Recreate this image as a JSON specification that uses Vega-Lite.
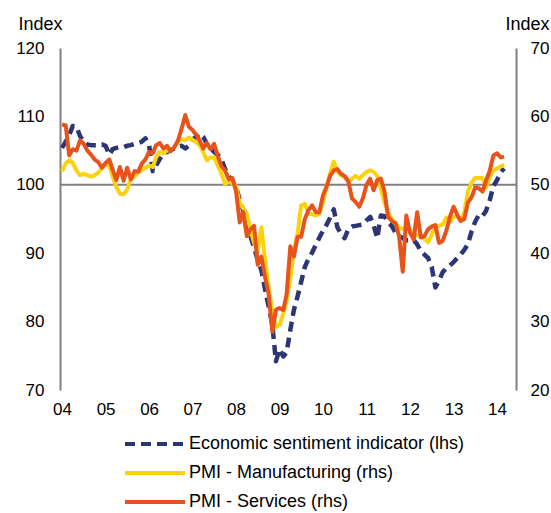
{
  "$schema": "https://vega.github.io/schema/vega-lite/v6.json",
  "width": 456,
  "height": 342,
  "autosize": {"type": "none"},
  "padding": {"left": 60, "top": 48, "right": 35, "bottom": 123},
  "background": "white",
  "config": {
    "view": {"stroke": null},
    "font": "Liberation Sans",
    "axis": {
      "labelFont": "Liberation Sans", "labelFontSize": 17, "labelColor": "#000000",
      "titleFont": "Liberation Sans", "titleFontSize": 18, "titleFontWeight": "normal", "titleColor": "#000000",
      "grid": false, "ticks": false, "domainColor": "#808080", "domainWidth": 2,
      "labelFlush": false, "labelOverlap": false
    },
    "axisX": {"domain": false, "format": "%y", "formatType": "utc", "labelPadding": 11, "tickCount": {"interval": "year", "step": 1}, "title": null},
    "legend": {
      "labelFont": "Liberation Sans", "labelFontSize": 18, "labelColor": "#000000", "labelLimit": 0,
      "symbolType": "M-6,0H6", "symbolSize": 100, "symbolStrokeWidth": 4,
      "labelOffset": 25, "rowPadding": 11, "padding": 0
    }
  },
  "data": {
    "values": [
      {"d": "2004-01", "esi": 105.4, "man": 52.0, "ser": 58.8},
      {"d": "2004-02", "esi": 106.3, "man": 53.1, "ser": 58.7},
      {"d": "2004-03", "esi": 107.3, "man": 53.6, "ser": 54.3},
      {"d": "2004-04", "esi": 108.6, "man": 53.2, "ser": 55.2},
      {"d": "2004-05", "esi": 108.5, "man": 52.1, "ser": 55.0},
      {"d": "2004-06", "esi": 107.1, "man": 51.4, "ser": 56.5},
      {"d": "2004-07", "esi": 106.3, "man": 51.6, "ser": 56.0},
      {"d": "2004-08", "esi": 105.9, "man": 51.4, "ser": 55.0},
      {"d": "2004-09", "esi": 105.8, "man": 51.2, "ser": 54.4},
      {"d": "2004-10", "esi": 105.8, "man": 51.4, "ser": 53.7},
      {"d": "2004-11", "esi": 105.8, "man": 51.8, "ser": 53.3},
      {"d": "2004-12", "esi": 105.9, "man": 52.4, "ser": 52.5},
      {"d": "2005-01", "esi": 105.7, "man": 53.0, "ser": 53.2},
      {"d": "2005-02", "esi": 104.4, "man": 52.8, "ser": 53.7},
      {"d": "2005-03", "esi": 105.2, "man": 51.2, "ser": 52.2},
      {"d": "2005-04", "esi": 105.4, "man": 49.7, "ser": 50.7},
      {"d": "2005-05", "esi": 105.5, "man": 48.7, "ser": 52.6},
      {"d": "2005-06", "esi": 105.5, "man": 48.6, "ser": 50.6},
      {"d": "2005-07", "esi": 105.7, "man": 49.3, "ser": 52.5},
      {"d": "2005-08", "esi": 105.8, "man": 50.9, "ser": 50.8},
      {"d": "2005-09", "esi": 106.0, "man": 51.2, "ser": 52.0},
      {"d": "2005-10", "esi": 106.1, "man": 51.8, "ser": 51.9},
      {"d": "2005-11", "esi": 106.3, "man": 52.2, "ser": 53.1},
      {"d": "2005-12", "esi": 106.8, "man": 52.5, "ser": 53.7},
      {"d": "2006-01", "esi": 105.8, "man": 52.8, "ser": 54.8},
      {"d": "2006-02", "esi": 102.0, "man": 52.6, "ser": 54.6},
      {"d": "2006-03", "esi": 102.8, "man": 54.0, "ser": 55.8},
      {"d": "2006-04", "esi": 103.8, "man": 54.8, "ser": 56.1},
      {"d": "2006-05", "esi": 104.5, "man": 54.6, "ser": 55.3},
      {"d": "2006-06", "esi": 104.8, "man": 55.0, "ser": 55.7},
      {"d": "2006-07", "esi": 105.1, "man": 55.1, "ser": 54.9},
      {"d": "2006-08", "esi": 105.3, "man": 55.5, "ser": 55.5},
      {"d": "2006-09", "esi": 105.6, "man": 56.3, "ser": 56.5},
      {"d": "2006-10", "esi": 105.7, "man": 56.7, "ser": 58.2},
      {"d": "2006-11", "esi": 105.3, "man": 56.5, "ser": 60.2},
      {"d": "2006-12", "esi": 105.7, "man": 56.9, "ser": 58.5},
      {"d": "2007-01", "esi": 106.6, "man": 56.6, "ser": 58.0},
      {"d": "2007-02", "esi": 107.0, "man": 56.2, "ser": 57.3},
      {"d": "2007-03", "esi": 107.5, "man": 55.8, "ser": 56.5},
      {"d": "2007-04", "esi": 107.0, "man": 54.8, "ser": 55.3},
      {"d": "2007-05", "esi": 106.0, "man": 53.6, "ser": 56.1},
      {"d": "2007-06", "esi": 105.4, "man": 54.0, "ser": 55.2},
      {"d": "2007-07", "esi": 104.8, "man": 54.0, "ser": 56.0},
      {"d": "2007-08", "esi": 104.4, "man": 52.8, "ser": 54.2},
      {"d": "2007-09", "esi": 103.7, "man": 51.6, "ser": 52.7},
      {"d": "2007-10", "esi": 102.3, "man": 50.1, "ser": 52.1},
      {"d": "2007-11", "esi": 101.3, "man": 50.5, "ser": 50.8},
      {"d": "2007-12", "esi": 100.5, "man": 50.2, "ser": 51.0},
      {"d": "2008-01", "esi": 99.7, "man": 49.8, "ser": 49.1},
      {"d": "2008-02", "esi": 97.8, "man": 47.3, "ser": 44.5},
      {"d": "2008-03", "esi": 96.3, "man": 46.6, "ser": 46.0},
      {"d": "2008-04", "esi": 94.8, "man": 45.8, "ser": 42.5},
      {"d": "2008-05", "esi": 92.5, "man": 43.4, "ser": 43.5},
      {"d": "2008-06", "esi": 90.8, "man": 41.5, "ser": 44.0},
      {"d": "2008-07", "esi": 89.0, "man": 40.2, "ser": 38.3},
      {"d": "2008-08", "esi": 87.5, "man": 43.8, "ser": 39.5},
      {"d": "2008-09", "esi": 84.7, "man": 39.0, "ser": 36.5},
      {"d": "2008-10", "esi": 82.2, "man": 35.0, "ser": 34.0},
      {"d": "2008-11", "esi": 79.5, "man": 31.5, "ser": 28.5},
      {"d": "2008-12", "esi": 74.2, "man": 29.2, "ser": 31.7},
      {"d": "2009-01", "esi": 76.0, "man": 29.5, "ser": 32.0},
      {"d": "2009-02", "esi": 74.9, "man": 31.2, "ser": 31.7},
      {"d": "2009-03", "esi": 75.5, "man": 33.0, "ser": 34.0},
      {"d": "2009-04", "esi": 78.8, "man": 36.3, "ser": 41.0},
      {"d": "2009-05", "esi": 81.7, "man": 40.5, "ser": 39.5},
      {"d": "2009-06", "esi": 83.7, "man": 42.9, "ser": 42.4},
      {"d": "2009-07", "esi": 85.8, "man": 47.0, "ser": 42.4},
      {"d": "2009-08", "esi": 88.0, "man": 47.2, "ser": 45.0},
      {"d": "2009-09", "esi": 89.2, "man": 45.8, "ser": 46.3},
      {"d": "2009-10", "esi": 90.1, "man": 45.7, "ser": 47.0},
      {"d": "2009-11", "esi": 91.2, "man": 45.5, "ser": 46.0},
      {"d": "2009-12", "esi": 92.3, "man": 45.8, "ser": 46.0},
      {"d": "2010-01", "esi": 93.3, "man": 47.5, "ser": 48.5},
      {"d": "2010-02", "esi": 94.2, "man": 49.8, "ser": 49.8},
      {"d": "2010-03", "esi": 95.2, "man": 51.7, "ser": 51.3},
      {"d": "2010-04", "esi": 96.4, "man": 53.4, "ser": 52.1},
      {"d": "2010-05", "esi": 93.8, "man": 51.9, "ser": 52.3},
      {"d": "2010-06", "esi": 92.8, "man": 51.4, "ser": 51.6},
      {"d": "2010-07", "esi": 92.2, "man": 51.1, "ser": 51.3},
      {"d": "2010-08", "esi": 93.5, "man": 50.5, "ser": 50.5},
      {"d": "2010-09", "esi": 93.9, "man": 50.9, "ser": 48.0},
      {"d": "2010-10", "esi": 94.0, "man": 51.3, "ser": 47.5},
      {"d": "2010-11", "esi": 94.1, "man": 50.9, "ser": 46.8},
      {"d": "2010-12", "esi": 94.2, "man": 51.4, "ser": 48.0},
      {"d": "2011-01", "esi": 94.8, "man": 51.9, "ser": 50.0},
      {"d": "2011-02", "esi": 95.3, "man": 52.1, "ser": 50.9},
      {"d": "2011-03", "esi": 94.1, "man": 51.9, "ser": 49.2},
      {"d": "2011-04", "esi": 92.2, "man": 51.3, "ser": 50.7},
      {"d": "2011-05", "esi": 95.5, "man": 49.5, "ser": 50.9},
      {"d": "2011-06", "esi": 95.4, "man": 47.4, "ser": 49.0},
      {"d": "2011-07", "esi": 94.5, "man": 46.0, "ser": 45.3},
      {"d": "2011-08", "esi": 94.0, "man": 45.0, "ser": 44.7},
      {"d": "2011-09", "esi": 93.0, "man": 44.4, "ser": 44.4},
      {"d": "2011-10", "esi": 92.5, "man": 43.7, "ser": 42.5},
      {"d": "2011-11", "esi": 92.2, "man": 43.6, "ser": 37.3},
      {"d": "2011-12", "esi": 91.9, "man": 43.6, "ser": 45.5},
      {"d": "2012-01", "esi": 91.9, "man": 43.4, "ser": 43.0},
      {"d": "2012-02", "esi": 91.9, "man": 42.9, "ser": 42.0},
      {"d": "2012-03", "esi": 91.3, "man": 42.6, "ser": 46.0},
      {"d": "2012-04", "esi": 90.3, "man": 42.6, "ser": 42.3},
      {"d": "2012-05", "esi": 89.8, "man": 42.1, "ser": 42.5},
      {"d": "2012-06", "esi": 89.3, "man": 41.6, "ser": 43.5},
      {"d": "2012-07", "esi": 88.0, "man": 42.7, "ser": 43.9},
      {"d": "2012-08", "esi": 85.0, "man": 43.8, "ser": 44.1},
      {"d": "2012-09", "esi": 86.0, "man": 44.0, "ser": 41.5},
      {"d": "2012-10", "esi": 87.2, "man": 44.2, "ser": 41.8},
      {"d": "2012-11", "esi": 87.8, "man": 45.2, "ser": 43.3},
      {"d": "2012-12", "esi": 88.2, "man": 44.6, "ser": 45.3},
      {"d": "2013-01", "esi": 88.7, "man": 45.3, "ser": 46.8},
      {"d": "2013-02", "esi": 89.3, "man": 45.4, "ser": 45.6},
      {"d": "2013-03", "esi": 89.8, "man": 44.8, "ser": 44.7},
      {"d": "2013-04", "esi": 90.5, "man": 46.0, "ser": 45.0},
      {"d": "2013-05", "esi": 91.3, "man": 49.0, "ser": 47.4},
      {"d": "2013-06", "esi": 93.2, "man": 50.3, "ser": 48.2},
      {"d": "2013-07", "esi": 94.6, "man": 51.0, "ser": 49.6},
      {"d": "2013-08", "esi": 95.6, "man": 51.0, "ser": 49.5},
      {"d": "2013-09", "esi": 95.4, "man": 51.0, "ser": 49.0},
      {"d": "2013-10", "esi": 96.2, "man": 49.6, "ser": 50.6},
      {"d": "2013-11", "esi": 97.8, "man": 51.2, "ser": 52.1},
      {"d": "2013-12", "esi": 99.8, "man": 52.1, "ser": 54.3},
      {"d": "2014-01", "esi": 100.7, "man": 52.4, "ser": 54.6},
      {"d": "2014-02", "esi": 101.8, "man": 52.7, "ser": 54.0},
      {"d": "2014-03", "esi": 102.4, "man": 52.9, "ser": 54.1}
    ]
  },
  "layer": [
    {
      "layer": [
        {
          "data": {"values": [{"ref": 100}]},
          "mark": {"type": "rule", "color": "#808080", "strokeWidth": 2},
          "encoding": {"y": {"field": "ref", "type": "quantitative"}}
        },
        {
          "mark": {"type": "line", "strokeWidth": 4.5, "strokeJoin": "round"},
          "encoding": {
            "x": {
              "field": "d", "type": "temporal",
              "scale": {"type": "utc", "domain": ["2003-12-15", "2014-06-09"]},
              "axis": {"title": null, "domain": false, "format": "%y", "formatType": "utc", "tickCount": {"interval": "year", "step": 1}, "labelPadding": 11}
            },
            "y": {
              "field": "esi", "type": "quantitative",
              "scale": {"domain": [70, 120], "nice": false, "zero": false},
              "axis": {"orient": "left", "values": [70, 80, 90, 100, 110, 120], "title": "Index", "titleAngle": 0, "titleX": -20, "titleY": -24, "titleAlign": "center", "titleBaseline": "middle", "labelPadding": 16}
            },
            "color": {
              "datum": "Economic sentiment indicator (lhs)", "type": "nominal",
              "scale": {"domain": ["Economic sentiment indicator (lhs)", "PMI - Manufacturing (rhs)", "PMI - Services (rhs)"], "range": ["#2d3675", "#fcd20f", "#e8521b"]},
              "legend": {"title": null, "orient": "none", "legendX": 86, "legendY": 387, "direction": "vertical", "labelLimit": 0}
            },
            "strokeDash": {
              "datum": "Economic sentiment indicator (lhs)", "type": "nominal",
              "scale": {"domain": ["Economic sentiment indicator (lhs)", "PMI - Manufacturing (rhs)", "PMI - Services (rhs)"], "range": [[10, 6], [1, 0], [1, 0]]},
              "legend": {"title": null, "orient": "none", "legendX": 86, "legendY": 387, "direction": "vertical", "labelLimit": 0}
            }
          }
        }
      ]
    },
    {
      "layer": [
        {
          "mark": {"type": "line", "strokeWidth": 4, "strokeJoin": "round"},
          "encoding": {
            "x": {
              "field": "d", "type": "temporal",
              "scale": {"type": "utc", "domain": ["2003-12-15", "2014-06-09"]},
              "axis": {"title": null, "domain": false, "format": "%y", "formatType": "utc", "tickCount": {"interval": "year", "step": 1}, "labelPadding": 11}
            },
            "y": {
              "field": "man", "type": "quantitative",
              "scale": {"domain": [20, 70], "nice": false, "zero": false},
              "axis": {"orient": "right", "values": [20, 30, 40, 50, 60, 70], "title": "Index", "titleAngle": 0, "titleX": 11, "titleY": -24, "titleAlign": "center", "titleBaseline": "middle", "labelPadding": 14}
            },
            "color": {"datum": "PMI - Manufacturing (rhs)", "type": "nominal"},
            "strokeDash": {"datum": "PMI - Manufacturing (rhs)", "type": "nominal"}
          }
        },
        {
          "mark": {"type": "line", "strokeWidth": 4, "strokeJoin": "round"},
          "encoding": {
            "x": {
              "field": "d", "type": "temporal",
              "scale": {"type": "utc", "domain": ["2003-12-15", "2014-06-09"]},
              "axis": {"title": null, "domain": false, "format": "%y", "formatType": "utc", "tickCount": {"interval": "year", "step": 1}, "labelPadding": 11}
            },
            "y": {"field": "ser", "type": "quantitative"},
            "color": {"datum": "PMI - Services (rhs)", "type": "nominal"},
            "strokeDash": {"datum": "PMI - Services (rhs)", "type": "nominal"}
          }
        }
      ]
    }
  ],
  "resolve": {"scale": {"y": "independent"}}
}
